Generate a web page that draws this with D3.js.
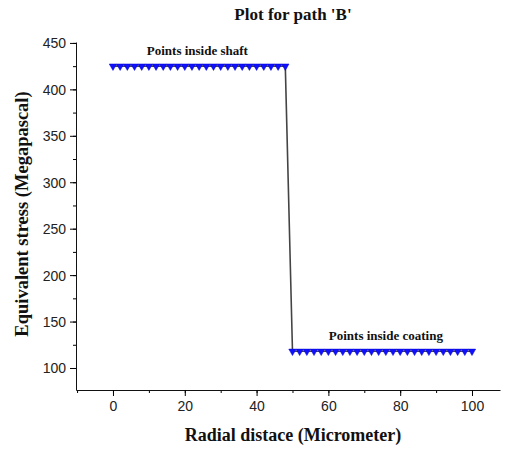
<!DOCTYPE html>
<html>
<head>
<meta charset="utf-8">
<script src="https://cdn.jsdelivr.net/npm/d3@7"></script>
<style>
  body { margin: 0; background: #fff; }
  .tick text { font-family: "Liberation Sans", Arial, sans-serif; font-size: 14px; fill: #222; }
</style>
</head>
<body>
<div id="chart"></div>
<script>
// radial positions (micrometer) and equivalent stress (MPa)
const shaftX = [0, 2, 4, 6, 8, 10, 12, 14, 16, 18, 20, 22, 24, 26, 28, 30, 32, 34, 36, 38, 40, 42, 44, 46, 48]
const shaftY = [425, 425, 425, 425, 425, 425, 425, 425, 425, 425, 425, 425, 425, 425, 425, 425, 425, 425, 425, 425, 425, 425, 425, 425, 425]
const coatX = [50, 52, 54, 56, 58, 60, 62, 64, 66, 68, 70, 72, 74, 76, 78, 80, 82, 84, 86, 88, 90, 92, 94, 96, 98, 100]
const coatY = [118, 118, 118, 118, 118, 118, 118, 118, 118, 118, 118, 118, 118, 118, 118, 118, 118, 118, 118, 118, 118, 118, 118, 118, 118, 118]
const xTicks = [0, 20, 40, 60, 80, 100]
const yTicks = [100, 150, 200, 250, 300, 350, 400, 450]

const W = 508, H = 450
const margin = {top: 42, right: 8, bottom: 60, left: 76}
const width = W - margin.left - margin.right
const height = H - margin.top - margin.bottom

const data = shaftX.map((d, i) => ({x: d, y: shaftY[i]}))
  .concat(coatX.map((d, i) => ({x: d, y: coatY[i]})))

const x = d3.scaleLinear().domain([-10.3, 107.8]).range([0, width])
const y = d3.scaleLinear().domain([76.3, 451]).range([height, 0])

const svg = d3.select('#chart').append('svg')
  .attr('width', W)
  .attr('height', H)

const g = svg.append('g')
  .attr('transform', 'translate(' + margin.left + ',' + margin.top + ')')

// minor ticks
g.append('g')
  .attr('transform', 'translate(0,' + height + ')')
  .call(d3.axisBottom(x).tickValues(d3.range(-10, 108, 10)).tickSize(3).tickFormat(''))
  .call(s => s.select('.domain').remove())
g.append('g')
  .call(d3.axisLeft(y).tickValues(d3.range(100, 451, 25)).tickSize(3).tickFormat(''))
  .call(s => s.select('.domain').remove())

// x axis
const xAxis = g.append('g')
  .attr('transform', 'translate(0,' + height + ')')
  .call(d3.axisBottom(x).tickValues(xTicks).tickSize(6).tickPadding(5).tickSizeOuter(0))
xAxis.select('.domain').attr('stroke', '#111')

// y axis
const yAxis = g.append('g')
  .call(d3.axisLeft(y).tickValues(yTicks).tickSize(6).tickPadding(4).tickSizeOuter(0))
yAxis.select('.domain').attr('stroke', '#111')
yAxis.selectAll('.tick text').attr('dy', '0.35em')

// connecting line
g.append('path')
  .datum(data)
  .attr('fill', 'none')
  .attr('stroke', '#444')
  .attr('stroke-width', 1.6)
  .attr('d', d3.line().x(d => x(d.x)).y(d => y(d.y)))

// downward triangle markers
const tri = d3.symbol().type(d3.symbolTriangle).size(24)
g.selectAll('.pt')
  .data(data)
  .enter().append('path')
  .attr('class', 'pt')
  .attr('d', tri)
  .attr('transform', d => 'translate(' + x(d.x) + ',' + y(d.y) + ') rotate(180)')
  .attr('fill', '#1010ff')
  .attr('stroke', '#0000cc')
  .attr('stroke-width', 0.5)

const serif = '"Liberation Serif", "Times New Roman", serif'

// annotations
g.append('text')
  .attr('x', x(23.5))
  .attr('y', y(425) - 11)
  .attr('text-anchor', 'middle')
  .attr('font-family', serif)
  .attr('font-weight', 'bold')
  .attr('font-size', 13)
  .attr('fill', '#111')
  .text('Points inside shaft')

g.append('text')
  .attr('x', x(76))
  .attr('y', y(118) - 11)
  .attr('text-anchor', 'middle')
  .attr('font-family', serif)
  .attr('font-weight', 'bold')
  .attr('font-size', 13)
  .attr('fill', '#111')
  .text('Points inside coating')

// title
svg.append('text')
  .attr('x', 293)
  .attr('y', 20)
  .attr('text-anchor', 'middle')
  .attr('font-family', serif)
  .attr('font-weight', 'bold')
  .attr('font-size', 17)
  .attr('fill', '#111')
  .text("Plot for path 'B'")

// axis labels
svg.append('text')
  .attr('x', 293)
  .attr('y', 441)
  .attr('text-anchor', 'middle')
  .attr('font-family', serif)
  .attr('font-weight', 'bold')
  .attr('font-size', 18)
  .attr('fill', '#111')
  .text('Radial distace (Micrometer)')

svg.append('text')
  .attr('transform', 'translate(28,' + (margin.top + height / 2 - 2) + ') rotate(-90)')
  .attr('text-anchor', 'middle')
  .attr('font-family', serif)
  .attr('font-weight', 'bold')
  .attr('font-size', 18.5)
  .attr('fill', '#111')
  .text('Equivalent stress (Megapascal)')
</script>
</body>
</html>
